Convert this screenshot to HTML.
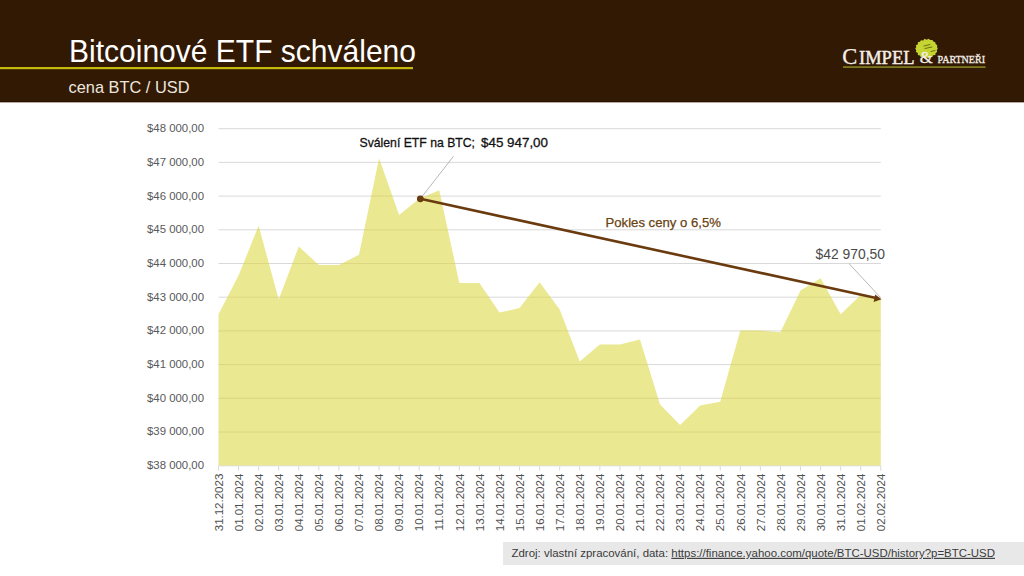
<!DOCTYPE html>
<html>
<head>
<meta charset="utf-8">
<style>
html,body{margin:0;padding:0;}
body{width:1024px;height:576px;overflow:hidden;background:#fff;position:relative;font-family:"Liberation Sans",sans-serif;}
svg{position:absolute;left:0;top:0;}
text{white-space:pre;}
</style>
</head>
<body>
<svg width="1024" height="576" viewBox="0 0 1024 576" font-family="Liberation Sans">
  <rect x="0" y="0" width="1024" height="102" fill="#321904"/><rect x="0" y="101" width="1024" height="1" fill="#261202"/><rect x="0" y="102" width="1024" height="1" fill="#baa89a"/>
  <text x="69" y="62.4" font-size="32" fill="#ffffff" textLength="347" lengthAdjust="spacingAndGlyphs">Bitcoinové ETF schváleno</text>
  <rect x="0" y="67" width="413" height="2.2" fill="#c4b90c"/>
  <text x="68.5" y="92.7" font-size="17" fill="#ece6df" textLength="121" lengthAdjust="spacingAndGlyphs">cena BTC / USD</text>
  <g id="logo" font-family="Liberation Serif" fill="#f4efe8">
    <path d="M937.78 48.60 L936.75 50.15 L937.18 51.94 L935.56 53.09 L935.35 54.97 L933.03 55.25 L932.12 56.89 L930.19 57.16 L928.54 58.16 L926.60 57.38 L924.58 58.56 L923.09 56.97 L920.82 57.29 L920.00 55.43 L917.84 54.98 L917.89 52.97 L915.86 51.99 L916.24 50.18 L915.24 48.60 L916.32 47.03 L915.84 45.20 L917.94 44.26 L917.79 42.18 L919.95 41.73 L920.99 40.17 L923.19 40.46 L924.59 38.71 L926.60 39.69 L928.59 38.79 L930.20 40.02 L932.34 39.97 L933.38 41.59 L935.24 42.31 L935.67 44.05 L937.22 45.24 L937.00 47.01 Z" fill="#c6d432"/>
    <g stroke="#55600f" stroke-width="1" stroke-linecap="round" opacity="0.85">
      <line x1="924" y1="46" x2="930" y2="44.5"/>
      <line x1="925" y1="48.5" x2="932" y2="47"/>
      <line x1="931" y1="51.5" x2="935" y2="50.5"/>
    </g>
    <text x="842.3" y="63.7" font-size="22.5" stroke="#f4efe8" stroke-width="0.25">C</text>
    <text x="859" y="63.7" font-size="19.5" stroke="#f4efe8" stroke-width="0.45" textLength="55.5" lengthAdjust="spacingAndGlyphs">IMPEL</text>
    <text x="919.8" y="63.3" font-size="17" stroke="#f4efe8" stroke-width="0.3" textLength="13" lengthAdjust="spacingAndGlyphs">&amp;</text>
    <text x="937.5" y="63.3" font-size="10.2" stroke="#f4efe8" stroke-width="0.3" textLength="47.5" lengthAdjust="spacingAndGlyphs">PARTNEŘI</text>
    <rect x="843" y="66.2" width="142.5" height="1.8" fill="#7d7a1e"/>
  </g>
  <g id="chart" font-family="Liberation Sans">
<defs><clipPath id="ac"><polygon points="218.5,465.70 218.50,314.20 238.57,275.40 258.64,225.80 278.71,299.40 298.78,246.50 318.85,265.00 338.92,265.00 358.99,254.70 379.06,158.20 399.13,215.00 419.20,198.75 439.27,190.20 459.34,283.10 479.41,283.10 499.48,312.50 519.55,308.10 539.62,282.30 559.68,309.40 579.75,361.60 599.82,344.40 619.89,344.40 639.96,339.40 660.03,404.40 680.10,425.00 700.17,405.60 720.24,401.70 740.31,330.60 760.38,330.60 780.45,332.30 800.52,290.60 820.59,278.30 840.66,314.20 860.73,295.10 880.80,298.30 880.8,465.70"/></clipPath></defs>
<line x1="218.5" y1="128.70" x2="880.8" y2="128.70" stroke="#d9d9d9" stroke-width="1"/>
<line x1="218.5" y1="162.40" x2="880.8" y2="162.40" stroke="#d9d9d9" stroke-width="1"/>
<line x1="218.5" y1="196.10" x2="880.8" y2="196.10" stroke="#d9d9d9" stroke-width="1"/>
<line x1="218.5" y1="229.80" x2="880.8" y2="229.80" stroke="#d9d9d9" stroke-width="1"/>
<line x1="218.5" y1="263.50" x2="880.8" y2="263.50" stroke="#d9d9d9" stroke-width="1"/>
<line x1="218.5" y1="297.20" x2="880.8" y2="297.20" stroke="#d9d9d9" stroke-width="1"/>
<line x1="218.5" y1="330.90" x2="880.8" y2="330.90" stroke="#d9d9d9" stroke-width="1"/>
<line x1="218.5" y1="364.60" x2="880.8" y2="364.60" stroke="#d9d9d9" stroke-width="1"/>
<line x1="218.5" y1="398.30" x2="880.8" y2="398.30" stroke="#d9d9d9" stroke-width="1"/>
<line x1="218.5" y1="432.00" x2="880.8" y2="432.00" stroke="#d9d9d9" stroke-width="1"/>
<line x1="218.5" y1="465.70" x2="880.8" y2="465.70" stroke="#d9d9d9" stroke-width="1"/>
<polygon points="218.5,465.70 218.50,314.20 238.57,275.40 258.64,225.80 278.71,299.40 298.78,246.50 318.85,265.00 338.92,265.00 358.99,254.70 379.06,158.20 399.13,215.00 419.20,198.75 439.27,190.20 459.34,283.10 479.41,283.10 499.48,312.50 519.55,308.10 539.62,282.30 559.68,309.40 579.75,361.60 599.82,344.40 619.89,344.40 639.96,339.40 660.03,404.40 680.10,425.00 700.17,405.60 720.24,401.70 740.31,330.60 760.38,330.60 780.45,332.30 800.52,290.60 820.59,278.30 840.66,314.20 860.73,295.10 880.80,298.30 880.8,465.70" fill="#eae891"/>
<line x1="218.5" y1="128.70" x2="880.8" y2="128.70" stroke="#d2cc7a" stroke-opacity="0.6" stroke-width="1" clip-path="url(#ac)"/>
<line x1="218.5" y1="162.40" x2="880.8" y2="162.40" stroke="#d2cc7a" stroke-opacity="0.6" stroke-width="1" clip-path="url(#ac)"/>
<line x1="218.5" y1="196.10" x2="880.8" y2="196.10" stroke="#d2cc7a" stroke-opacity="0.6" stroke-width="1" clip-path="url(#ac)"/>
<line x1="218.5" y1="229.80" x2="880.8" y2="229.80" stroke="#d2cc7a" stroke-opacity="0.6" stroke-width="1" clip-path="url(#ac)"/>
<line x1="218.5" y1="263.50" x2="880.8" y2="263.50" stroke="#d2cc7a" stroke-opacity="0.6" stroke-width="1" clip-path="url(#ac)"/>
<line x1="218.5" y1="297.20" x2="880.8" y2="297.20" stroke="#d2cc7a" stroke-opacity="0.6" stroke-width="1" clip-path="url(#ac)"/>
<line x1="218.5" y1="330.90" x2="880.8" y2="330.90" stroke="#d2cc7a" stroke-opacity="0.6" stroke-width="1" clip-path="url(#ac)"/>
<line x1="218.5" y1="364.60" x2="880.8" y2="364.60" stroke="#d2cc7a" stroke-opacity="0.6" stroke-width="1" clip-path="url(#ac)"/>
<line x1="218.5" y1="398.30" x2="880.8" y2="398.30" stroke="#d2cc7a" stroke-opacity="0.6" stroke-width="1" clip-path="url(#ac)"/>
<line x1="218.5" y1="432.00" x2="880.8" y2="432.00" stroke="#d2cc7a" stroke-opacity="0.6" stroke-width="1" clip-path="url(#ac)"/>
<line x1="218.5" y1="465.70" x2="880.8" y2="465.70" stroke="#d2cc7a" stroke-opacity="0.6" stroke-width="1" clip-path="url(#ac)"/>
<line x1="218.5" y1="466.00" x2="880.8" y2="466.00" stroke="#ececec" stroke-width="0.8"/>
<line x1="218.50" y1="466.20" x2="218.50" y2="470.70" stroke="#d9d9d9" stroke-width="1"/>
<line x1="238.57" y1="466.20" x2="238.57" y2="470.70" stroke="#d9d9d9" stroke-width="1"/>
<line x1="258.64" y1="466.20" x2="258.64" y2="470.70" stroke="#d9d9d9" stroke-width="1"/>
<line x1="278.71" y1="466.20" x2="278.71" y2="470.70" stroke="#d9d9d9" stroke-width="1"/>
<line x1="298.78" y1="466.20" x2="298.78" y2="470.70" stroke="#d9d9d9" stroke-width="1"/>
<line x1="318.85" y1="466.20" x2="318.85" y2="470.70" stroke="#d9d9d9" stroke-width="1"/>
<line x1="338.92" y1="466.20" x2="338.92" y2="470.70" stroke="#d9d9d9" stroke-width="1"/>
<line x1="358.99" y1="466.20" x2="358.99" y2="470.70" stroke="#d9d9d9" stroke-width="1"/>
<line x1="379.06" y1="466.20" x2="379.06" y2="470.70" stroke="#d9d9d9" stroke-width="1"/>
<line x1="399.13" y1="466.20" x2="399.13" y2="470.70" stroke="#d9d9d9" stroke-width="1"/>
<line x1="419.20" y1="466.20" x2="419.20" y2="470.70" stroke="#d9d9d9" stroke-width="1"/>
<line x1="439.27" y1="466.20" x2="439.27" y2="470.70" stroke="#d9d9d9" stroke-width="1"/>
<line x1="459.34" y1="466.20" x2="459.34" y2="470.70" stroke="#d9d9d9" stroke-width="1"/>
<line x1="479.41" y1="466.20" x2="479.41" y2="470.70" stroke="#d9d9d9" stroke-width="1"/>
<line x1="499.48" y1="466.20" x2="499.48" y2="470.70" stroke="#d9d9d9" stroke-width="1"/>
<line x1="519.55" y1="466.20" x2="519.55" y2="470.70" stroke="#d9d9d9" stroke-width="1"/>
<line x1="539.62" y1="466.20" x2="539.62" y2="470.70" stroke="#d9d9d9" stroke-width="1"/>
<line x1="559.68" y1="466.20" x2="559.68" y2="470.70" stroke="#d9d9d9" stroke-width="1"/>
<line x1="579.75" y1="466.20" x2="579.75" y2="470.70" stroke="#d9d9d9" stroke-width="1"/>
<line x1="599.82" y1="466.20" x2="599.82" y2="470.70" stroke="#d9d9d9" stroke-width="1"/>
<line x1="619.89" y1="466.20" x2="619.89" y2="470.70" stroke="#d9d9d9" stroke-width="1"/>
<line x1="639.96" y1="466.20" x2="639.96" y2="470.70" stroke="#d9d9d9" stroke-width="1"/>
<line x1="660.03" y1="466.20" x2="660.03" y2="470.70" stroke="#d9d9d9" stroke-width="1"/>
<line x1="680.10" y1="466.20" x2="680.10" y2="470.70" stroke="#d9d9d9" stroke-width="1"/>
<line x1="700.17" y1="466.20" x2="700.17" y2="470.70" stroke="#d9d9d9" stroke-width="1"/>
<line x1="720.24" y1="466.20" x2="720.24" y2="470.70" stroke="#d9d9d9" stroke-width="1"/>
<line x1="740.31" y1="466.20" x2="740.31" y2="470.70" stroke="#d9d9d9" stroke-width="1"/>
<line x1="760.38" y1="466.20" x2="760.38" y2="470.70" stroke="#d9d9d9" stroke-width="1"/>
<line x1="780.45" y1="466.20" x2="780.45" y2="470.70" stroke="#d9d9d9" stroke-width="1"/>
<line x1="800.52" y1="466.20" x2="800.52" y2="470.70" stroke="#d9d9d9" stroke-width="1"/>
<line x1="820.59" y1="466.20" x2="820.59" y2="470.70" stroke="#d9d9d9" stroke-width="1"/>
<line x1="840.66" y1="466.20" x2="840.66" y2="470.70" stroke="#d9d9d9" stroke-width="1"/>
<line x1="860.73" y1="466.20" x2="860.73" y2="470.70" stroke="#d9d9d9" stroke-width="1"/>
<line x1="880.80" y1="466.20" x2="880.80" y2="470.70" stroke="#d9d9d9" stroke-width="1"/>
<text x="204" y="132.10" text-anchor="end" font-size="11.4" fill="#595959">$48 000,00</text>
<text x="204" y="165.80" text-anchor="end" font-size="11.4" fill="#595959">$47 000,00</text>
<text x="204" y="199.50" text-anchor="end" font-size="11.4" fill="#595959">$46 000,00</text>
<text x="204" y="233.20" text-anchor="end" font-size="11.4" fill="#595959">$45 000,00</text>
<text x="204" y="266.90" text-anchor="end" font-size="11.4" fill="#595959">$44 000,00</text>
<text x="204" y="300.60" text-anchor="end" font-size="11.4" fill="#595959">$43 000,00</text>
<text x="204" y="334.30" text-anchor="end" font-size="11.4" fill="#595959">$42 000,00</text>
<text x="204" y="368.00" text-anchor="end" font-size="11.4" fill="#595959">$41 000,00</text>
<text x="204" y="401.70" text-anchor="end" font-size="11.4" fill="#595959">$40 000,00</text>
<text x="204" y="435.40" text-anchor="end" font-size="11.4" fill="#595959">$39 000,00</text>
<text x="204" y="469.10" text-anchor="end" font-size="11.4" fill="#595959">$38 000,00</text>
<text transform="translate(222.70,473.70) rotate(-90)" text-anchor="end" font-size="11.5" fill="#4f4f4f">31.12.2023</text>
<text transform="translate(242.77,473.70) rotate(-90)" text-anchor="end" font-size="11.5" fill="#4f4f4f">01.01.2024</text>
<text transform="translate(262.84,473.70) rotate(-90)" text-anchor="end" font-size="11.5" fill="#4f4f4f">02.01.2024</text>
<text transform="translate(282.91,473.70) rotate(-90)" text-anchor="end" font-size="11.5" fill="#4f4f4f">03.01.2024</text>
<text transform="translate(302.98,473.70) rotate(-90)" text-anchor="end" font-size="11.5" fill="#4f4f4f">04.01.2024</text>
<text transform="translate(323.05,473.70) rotate(-90)" text-anchor="end" font-size="11.5" fill="#4f4f4f">05.01.2024</text>
<text transform="translate(343.12,473.70) rotate(-90)" text-anchor="end" font-size="11.5" fill="#4f4f4f">06.01.2024</text>
<text transform="translate(363.19,473.70) rotate(-90)" text-anchor="end" font-size="11.5" fill="#4f4f4f">07.01.2024</text>
<text transform="translate(383.26,473.70) rotate(-90)" text-anchor="end" font-size="11.5" fill="#4f4f4f">08.01.2024</text>
<text transform="translate(403.33,473.70) rotate(-90)" text-anchor="end" font-size="11.5" fill="#4f4f4f">09.01.2024</text>
<text transform="translate(423.40,473.70) rotate(-90)" text-anchor="end" font-size="11.5" fill="#4f4f4f">10.01.2024</text>
<text transform="translate(443.47,473.70) rotate(-90)" text-anchor="end" font-size="11.5" fill="#4f4f4f">11.01.2024</text>
<text transform="translate(463.54,473.70) rotate(-90)" text-anchor="end" font-size="11.5" fill="#4f4f4f">12.01.2024</text>
<text transform="translate(483.61,473.70) rotate(-90)" text-anchor="end" font-size="11.5" fill="#4f4f4f">13.01.2024</text>
<text transform="translate(503.68,473.70) rotate(-90)" text-anchor="end" font-size="11.5" fill="#4f4f4f">14.01.2024</text>
<text transform="translate(523.75,473.70) rotate(-90)" text-anchor="end" font-size="11.5" fill="#4f4f4f">15.01.2024</text>
<text transform="translate(543.82,473.70) rotate(-90)" text-anchor="end" font-size="11.5" fill="#4f4f4f">16.01.2024</text>
<text transform="translate(563.88,473.70) rotate(-90)" text-anchor="end" font-size="11.5" fill="#4f4f4f">17.01.2024</text>
<text transform="translate(583.95,473.70) rotate(-90)" text-anchor="end" font-size="11.5" fill="#4f4f4f">18.01.2024</text>
<text transform="translate(604.02,473.70) rotate(-90)" text-anchor="end" font-size="11.5" fill="#4f4f4f">19.01.2024</text>
<text transform="translate(624.09,473.70) rotate(-90)" text-anchor="end" font-size="11.5" fill="#4f4f4f">20.01.2024</text>
<text transform="translate(644.16,473.70) rotate(-90)" text-anchor="end" font-size="11.5" fill="#4f4f4f">21.01.2024</text>
<text transform="translate(664.23,473.70) rotate(-90)" text-anchor="end" font-size="11.5" fill="#4f4f4f">22.01.2024</text>
<text transform="translate(684.30,473.70) rotate(-90)" text-anchor="end" font-size="11.5" fill="#4f4f4f">23.01.2024</text>
<text transform="translate(704.37,473.70) rotate(-90)" text-anchor="end" font-size="11.5" fill="#4f4f4f">24.01.2024</text>
<text transform="translate(724.44,473.70) rotate(-90)" text-anchor="end" font-size="11.5" fill="#4f4f4f">25.01.2024</text>
<text transform="translate(744.51,473.70) rotate(-90)" text-anchor="end" font-size="11.5" fill="#4f4f4f">26.01.2024</text>
<text transform="translate(764.58,473.70) rotate(-90)" text-anchor="end" font-size="11.5" fill="#4f4f4f">27.01.2024</text>
<text transform="translate(784.65,473.70) rotate(-90)" text-anchor="end" font-size="11.5" fill="#4f4f4f">28.01.2024</text>
<text transform="translate(804.72,473.70) rotate(-90)" text-anchor="end" font-size="11.5" fill="#4f4f4f">29.01.2024</text>
<text transform="translate(824.79,473.70) rotate(-90)" text-anchor="end" font-size="11.5" fill="#4f4f4f">30.01.2024</text>
<text transform="translate(844.86,473.70) rotate(-90)" text-anchor="end" font-size="11.5" fill="#4f4f4f">31.01.2024</text>
<text transform="translate(864.93,473.70) rotate(-90)" text-anchor="end" font-size="11.5" fill="#4f4f4f">01.02.2024</text>
<text transform="translate(885.00,473.70) rotate(-90)" text-anchor="end" font-size="11.5" fill="#4f4f4f">02.02.2024</text>
<line x1="420.3" y1="198.8" x2="453.5" y2="156.3" stroke="#a6a6a6" stroke-width="0.8"/>
<line x1="849.2" y1="263.8" x2="880.5" y2="297.5" stroke="#a6a6a6" stroke-width="0.8"/>
<line x1="420.3" y1="198.8" x2="875" y2="297.8" stroke="#6b3b10" stroke-width="2.6"/>
<polygon points="881.5,299.2 873.6,301.9 875.2,294.6" fill="#6b3b10"/>
<circle cx="420.3" cy="198.8" r="3.4" fill="#6b3b10"/>
<text x="359.5" y="146.8" font-size="13.5" fill="#111" stroke="#111" stroke-width="0.3" textLength="115.5" lengthAdjust="spacingAndGlyphs">Sválení ETF na BTC;</text>
<text x="481" y="146.8" font-size="13.5" fill="#111" stroke="#111" stroke-width="0.3" textLength="67" lengthAdjust="spacingAndGlyphs">$45 947,00</text>
<text x="605.5" y="227" font-size="13" fill="#6a4313" stroke="#6a4313" stroke-width="0.25" textLength="115.5" lengthAdjust="spacingAndGlyphs">Pokles ceny o 6,5%</text>
<text x="815.5" y="259.1" font-size="14" fill="#4a4a4a" textLength="69.5" lengthAdjust="spacingAndGlyphs">$42 970,50</text>
<rect x="503" y="542" width="521" height="23" fill="#e8e8e8"/>
<text x="511.5" y="556.8" font-size="11.4" fill="#3a3a3a" textLength="483.5" lengthAdjust="spacingAndGlyphs">Zdroj: vlastní zpracování, data: <tspan text-decoration="underline">https://finance.yahoo.com/quote/BTC-USD/history?p=BTC-USD</tspan></text>
  </g>
</svg>
</body>
</html>
